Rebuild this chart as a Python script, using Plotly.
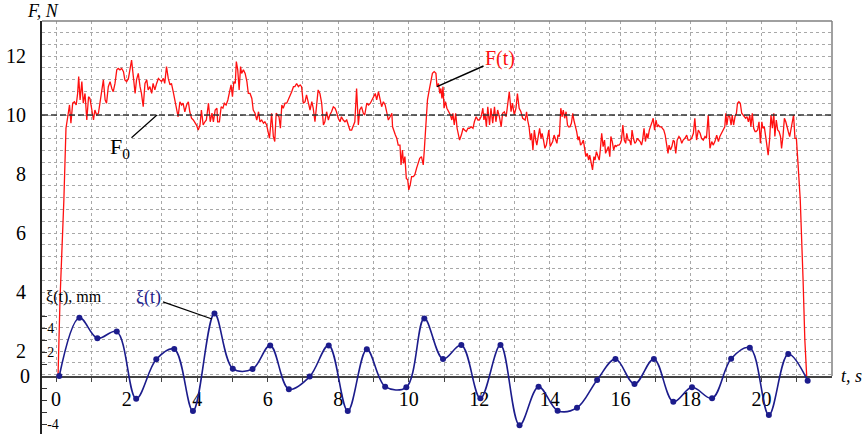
import plotly.graph_objects as go

# ---------------- data ----------------
F0 = 10.0  # nominal force, N

# F(t): (t [s], F [N]), in time segments
FORCE_0_4S = [
    (0.03, 0.0), (0.11, 3.73), (0.22, 7.12), (0.28, 9.55), (0.33, 9.94), (0.38, 10.34), (0.42, 9.72),
    (0.47, 10.40), (0.52, 10.45), (0.57, 10.34), (0.61, 10.73), (0.64, 11.30), (0.68, 10.51), (0.73, 11.13),
    (0.77, 10.40), (0.82, 10.73), (0.87, 9.83), (0.92, 10.62), (0.96, 10.56), (1.01, 10.17), (1.06, 9.83),
    (1.10, 10.17), (1.15, 10.00), (1.20, 10.06), (1.25, 10.51), (1.29, 10.73), (1.34, 11.19), (1.39, 10.51),
    (1.43, 10.40), (1.48, 10.96), (1.53, 11.13), (1.58, 10.90), (1.62, 10.79), (1.67, 11.07), (1.72, 11.53),
    (1.76, 11.58), (1.81, 11.53), (1.86, 11.58), (1.91, 11.47), (1.95, 11.19), (2.00, 11.13), (2.05, 11.24),
    (2.09, 11.58), (2.14, 11.86), (2.19, 11.30), (2.24, 10.73), (2.28, 11.19), (2.33, 11.41), (2.38, 10.96),
    (2.42, 10.73), (2.47, 10.28), (2.52, 11.07), (2.57, 11.19), (2.61, 10.85), (2.66, 10.96), (2.71, 10.73),
    (2.75, 11.07), (2.80, 10.85), (2.85, 11.07), (2.90, 11.24), (2.94, 11.19), (2.99, 11.13), (3.04, 11.24),
    (3.08, 11.07), (3.13, 11.64), (3.18, 11.24), (3.23, 11.02), (3.27, 11.07), (3.32, 10.79), (3.37, 10.51),
    (3.42, 10.28), (3.46, 9.94), (3.51, 10.45), (3.56, 10.34), (3.60, 10.40), (3.65, 10.11), (3.70, 10.34),
    (3.75, 10.45), (3.79, 10.11), (3.84, 9.89), (3.89, 9.83), (3.93, 9.77), (3.98, 9.66), (4.03, 9.49),
    (4.08, 9.66), (4.12, 10.17), (4.17, 9.66), (4.22, 9.77), (4.26, 9.83),
]
FORCE_4_9S = [
    (4.32, 10.40), (4.37, 9.77), (4.42, 10.06), (4.46, 9.77), (4.51, 10.17), (4.56, 10.23), (4.58, 9.77),
    (4.63, 9.77), (4.68, 10.28), (4.73, 10.23), (4.77, 10.40), (4.82, 10.34), (4.87, 10.51), (4.92, 10.85),
    (4.96, 11.02), (5.00, 10.62), (5.04, 11.13), (5.08, 11.07), (5.11, 11.81), (5.15, 11.53), (5.19, 10.85),
    (5.23, 11.64), (5.26, 11.41), (5.31, 11.53), (5.36, 11.41), (5.41, 11.13), (5.45, 10.73), (5.50, 10.73),
    (5.55, 10.56), (5.59, 10.17), (5.64, 10.06), (5.69, 9.83), (5.74, 10.11), (5.78, 9.77), (5.83, 9.83),
    (5.88, 9.72), (5.92, 9.77), (5.97, 9.66), (6.02, 9.32), (6.05, 9.21), (6.08, 9.60), (6.11, 10.06),
    (6.16, 9.27), (6.20, 9.10), (6.24, 10.06), (6.28, 10.00), (6.32, 9.94), (6.36, 9.55), (6.40, 10.34),
    (6.44, 10.23), (6.49, 10.40), (6.54, 10.40), (6.58, 10.51), (6.63, 10.62), (6.68, 10.79), (6.73, 10.96),
    (6.77, 10.96), (6.82, 11.07), (6.87, 10.96), (6.92, 11.02), (6.96, 10.96), (7.01, 10.40), (7.06, 10.45),
    (7.10, 10.68), (7.15, 10.40), (7.20, 10.17), (7.25, 10.45), (7.29, 10.23), (7.34, 9.77), (7.39, 10.40),
    (7.43, 10.85), (7.48, 10.73), (7.53, 10.40), (7.58, 9.66), (7.62, 9.77), (7.67, 10.11), (7.72, 9.83),
    (7.76, 10.00), (7.81, 10.11), (7.86, 10.28), (7.91, 10.23), (7.95, 10.11), (8.00, 9.89), (8.05, 9.77),
    (8.09, 9.94), (8.14, 9.83), (8.19, 9.77), (8.24, 9.83), (8.28, 9.66), (8.33, 9.49), (8.38, 9.49),
    (8.42, 9.60), (8.47, 9.77), (8.52, 10.90), (8.57, 9.66), (8.61, 10.17), (8.66, 10.28), (8.71, 10.06),
    (8.75, 10.00),
]
FORCE_9_13S = [
    (8.81, 10.40), (8.86, 10.34), (8.91, 10.40), (8.95, 10.51), (9.00, 10.62), (9.05, 10.73), (9.09, 10.51),
    (9.14, 10.79), (9.19, 10.51), (9.23, 10.28), (9.28, 10.45), (9.33, 10.34), (9.38, 10.06), (9.42, 9.83),
    (9.47, 9.94), (9.52, 10.06), (9.54, 9.60), (9.58, 9.44), (9.62, 9.32), (9.66, 9.21), (9.70, 8.98),
    (9.75, 8.98), (9.78, 8.31), (9.82, 8.81), (9.85, 8.36), (9.89, 8.59), (9.93, 7.85), (9.97, 7.80),
    (10.00, 7.46), (10.04, 7.63), (10.08, 7.91), (10.13, 7.91), (10.17, 7.97), (10.22, 8.19), (10.27, 8.36),
    (10.31, 8.53), (10.36, 8.59), (10.41, 8.31), (10.44, 8.81), (10.48, 9.60), (10.53, 10.51), (10.58, 10.85),
    (10.62, 11.07), (10.67, 11.41), (10.72, 11.47), (10.77, 11.41), (10.80, 10.96), (10.84, 11.07),
    (10.88, 10.73), (10.91, 10.90), (10.94, 10.56), (10.97, 10.96), (11.00, 10.23), (11.04, 10.45),
    (11.08, 10.23), (11.13, 10.11), (11.18, 10.00), (11.22, 9.83), (11.25, 10.06), (11.29, 9.66),
    (11.33, 10.06), (11.37, 9.55), (11.40, 9.38), (11.44, 9.15), (11.49, 9.32), (11.54, 9.55), (11.58, 9.49),
    (11.63, 9.44), (11.68, 9.55), (11.72, 9.55), (11.77, 9.60), (11.82, 9.55), (11.86, 9.77), (11.91, 9.94),
    (11.96, 9.83), (12.00, 9.83), (12.05, 9.94), (12.10, 10.23), (12.13, 9.83), (12.16, 10.06), (12.20, 9.60),
    (12.24, 10.28), (12.29, 9.66), (12.33, 10.23), (12.38, 9.72), (12.43, 10.28), (12.47, 9.77),
    (12.52, 10.17), (12.57, 9.94), (12.62, 9.60), (12.66, 10.06), (12.71, 10.11), (12.76, 9.94),
    (12.80, 10.34), (12.85, 10.79), (12.90, 10.11), (12.94, 10.40), (12.99, 10.00), (13.04, 10.23),
    (13.08, 10.73), (13.13, 10.23), (13.18, 10.11), (13.23, 9.89),
]
FORCE_13_18S = [
    (13.30, 9.83), (13.34, 10.11), (13.37, 9.83), (13.41, 9.60), (13.45, 9.15), (13.48, 9.38), (13.52, 8.81),
    (13.56, 9.49), (13.60, 9.15), (13.63, 8.98), (13.67, 9.27), (13.71, 9.55), (13.75, 9.21), (13.78, 9.38),
    (13.82, 9.15), (13.86, 8.87), (13.90, 8.98), (13.93, 9.15), (13.97, 9.49), (14.01, 8.93), (14.05, 9.04),
    (14.08, 9.10), (14.12, 9.32), (14.16, 9.15), (14.20, 9.04), (14.23, 9.32), (14.27, 9.27), (14.31, 10.23),
    (14.35, 9.94), (14.38, 10.17), (14.42, 9.89), (14.46, 10.11), (14.50, 9.66), (14.53, 9.60), (14.57, 9.60),
    (14.61, 9.72), (14.65, 10.06), (14.68, 9.83), (14.72, 9.66), (14.76, 9.44), (14.80, 9.15), (14.83, 9.27),
    (14.87, 8.98), (14.91, 9.04), (14.95, 9.15), (14.98, 8.93), (15.02, 8.59), (15.06, 8.70), (15.10, 8.47),
    (15.13, 8.64), (15.17, 8.42), (15.21, 8.14), (15.25, 8.59), (15.28, 8.47), (15.32, 8.76), (15.36, 8.64),
    (15.40, 8.47), (15.43, 8.81), (15.47, 9.38), (15.51, 8.93), (15.55, 9.15), (15.58, 8.70), (15.62, 8.81),
    (15.66, 8.93), (15.70, 8.59), (15.73, 9.27), (15.77, 9.10), (15.81, 8.81), (15.85, 8.98), (15.88, 8.93),
    (15.92, 8.98), (15.96, 8.98), (16.00, 9.04), (16.03, 9.15), (16.07, 9.66), (16.11, 9.15), (16.15, 9.04),
    (16.18, 9.38), (16.22, 9.15), (16.26, 9.15), (16.30, 8.98), (16.33, 9.49), (16.37, 9.21), (16.41, 9.04),
    (16.45, 9.10), (16.48, 9.21), (16.52, 9.15), (16.56, 9.10), (16.60, 8.98), (16.63, 9.15), (16.67, 9.55),
    (16.71, 9.10), (16.75, 9.38), (16.78, 9.21), (16.82, 9.49), (16.86, 9.60), (16.90, 9.77), (16.93, 9.89),
    (16.97, 9.49), (17.01, 9.83), (17.05, 9.60), (17.08, 9.66), (17.12, 9.60), (17.16, 9.60), (17.20, 9.55),
    (17.23, 9.49), (17.27, 9.32), (17.31, 9.04), (17.35, 8.70), (17.38, 8.98), (17.42, 8.81), (17.46, 8.93),
    (17.50, 9.15), (17.53, 9.10), (17.57, 8.70), (17.61, 9.15), (17.66, 9.27), (17.70, 9.21),
]
FORCE_18_END = [
    (17.74, 9.04), (17.78, 9.15), (17.83, 9.21), (17.88, 9.32), (17.92, 9.15), (17.97, 9.15), (18.02, 9.21),
    (18.07, 9.38), (18.11, 9.89), (18.16, 9.15), (18.21, 9.49), (18.26, 9.38), (18.30, 9.21), (18.35, 9.15),
    (18.40, 9.27), (18.44, 9.21), (18.49, 10.00), (18.54, 8.87), (18.59, 9.10), (18.63, 8.98), (18.68, 9.10),
    (18.73, 9.32), (18.78, 9.10), (18.82, 9.27), (18.87, 9.38), (18.92, 9.49), (18.96, 9.60), (18.99, 10.06),
    (19.02, 9.66), (19.06, 10.00), (19.10, 9.94), (19.14, 9.66), (19.17, 10.00), (19.21, 9.66), (19.25, 9.94),
    (19.29, 10.06), (19.32, 10.40), (19.36, 10.45), (19.40, 10.40), (19.44, 10.06), (19.48, 10.00),
    (19.51, 9.94), (19.55, 9.89), (19.59, 9.94), (19.63, 9.77), (19.67, 10.00), (19.70, 9.60), (19.74, 10.06),
    (19.78, 9.55), (19.82, 9.44), (19.85, 9.44), (19.89, 9.49), (19.93, 9.77), (19.97, 9.04), (20.01, 9.77),
    (20.04, 9.55), (20.08, 9.60), (20.12, 9.27), (20.16, 8.93), (20.19, 8.64), (20.23, 9.15), (20.27, 10.00),
    (20.31, 9.55), (20.35, 10.06), (20.38, 9.27), (20.42, 9.83), (20.46, 9.49), (20.50, 9.44), (20.54, 9.27),
    (20.57, 8.87), (20.61, 9.27), (20.65, 9.89), (20.69, 9.77), (20.72, 9.66), (20.76, 9.44), (20.80, 9.27),
    (20.84, 9.55), (20.88, 9.83), (20.91, 10.00), (20.95, 9.21), (20.99, 9.21), (21.03, 8.47), (21.07, 7.46),
    (21.10, 7.12), (21.18, 4.41), (21.23, 2.37), (21.28, 1.20), (21.32, 0.0),
]

# xi(t): displacement, mm (marked points)
XI_TIME = [0.09, 0.66, 1.17, 1.72, 2.27, 2.84, 3.35, 3.88, 4.49, 5.01, 5.57, 6.07, 6.60, 7.19, 7.73,
           8.27, 8.81, 9.33, 9.93, 10.44, 10.97, 11.49, 12.03, 12.60, 13.14, 13.68, 14.22, 14.77,
           15.34, 15.86, 16.40, 16.95, 17.50, 18.03, 18.60, 19.14, 19.67, 20.21, 20.76, 21.31]
XI_MM = [0.0, 4.86, 3.14, 3.70, -1.90, 1.39, 2.25, -2.92, 5.20, 0.61, 0.58, 2.55, -1.10, -0.05, 2.55,
         -2.92, 2.22, -0.89, -0.94, 4.80, 1.42, 2.58, -1.86, 2.58, -4.10, -0.89, -2.89, -2.65,
         -0.33, 1.42, -0.67, 1.42, -2.14, -0.94, -1.86, 1.44, 2.36, -3.25, 1.83, -0.39]

T_TICKS = list(range(0, 22))
T_LABELS = [str(v) if v % 2 == 0 else "" for v in T_TICKS]
F_LABELS = [2, 4, 6, 8, 10, 12]
XI_TICKS = [-4, -3, -2, -1, 1, 2, 3, 4, 5]
XI_LABELS = ["-4", "", "", "", "", "2", "", "4", ""]

force = FORCE_0_4S + FORCE_4_9S + FORCE_9_13S + FORCE_13_18S + FORCE_18_END
f_t = [p[0] for p in force]
f_v = [p[1] for p in force]

# ---------------- geometry ----------------
W, H = 866, 434
ML, MR, MT, MB = 42, 34, 21, 0
PW, PH = W - ML - MR, H - MT - MB
AXIS_PX = 376            # pixel row of the t axis
F_DOMAIN0 = (H - AXIS_PX) / PH
PX_PER_N = 29.5
PX_PER_MM = 12.0
F_TOP = 10 + (115 - MT) / PX_PER_N
F_BOT = F_TOP - (AXIS_PX - MT) / PX_PER_N
XI_TOP = (AXIS_PX - MT) / PX_PER_MM
XI_BOT = -(H - AXIS_PX) / PX_PER_MM

SERIF = "Liberation Serif, Times New Roman, serif"
GRID = "#a8a8a8"
RED = "#ff1010"
BLUE = "#1c1c8c"

f_grid = [round(k * 0.4, 1) for k in range(3, 33)]
f_text = [str(int(v)) if v in F_LABELS else "" for v in f_grid]

fig = go.Figure()
fig.add_trace(go.Scatter(x=f_t, y=f_v, xaxis="x", yaxis="y2", mode="lines",
                         line=dict(color=RED, width=1.3), hoverinfo="skip"))
fig.add_trace(go.Scatter(x=XI_TIME, y=XI_MM, xaxis="x2", yaxis="y", mode="lines+markers",
                         line=dict(color=BLUE, width=1.6, shape="spline", smoothing=1.0),
                         marker=dict(color=BLUE, size=6), hoverinfo="skip"))

fig.update_layout(
    width=W, height=H, margin=dict(l=ML, r=MR, t=MT, b=MB),
    paper_bgcolor="white", plot_bgcolor="rgba(0,0,0,0)", showlegend=False,
    font=dict(family=SERIF, color="black"),
    xaxis=dict(range=[-0.4, 22], domain=[0, 1], anchor="y2", automargin=False,
               tickmode="array", tickvals=T_TICKS, ticktext=T_LABELS,
               tickfont=dict(size=20, family=SERIF, color="black"),
               ticks="outside", ticklen=4, tickcolor="#444",
               showline=True, linecolor="#444", linewidth=1.5,
               showgrid=True, gridcolor=GRID, gridwidth=1, griddash="3px,3px",
               zeroline=False),
    xaxis2=dict(range=[-0.4, 22], domain=[0, 1], anchor="y", matches="x",
                visible=False, automargin=False),
    yaxis=dict(range=[XI_BOT, XI_TOP], domain=[0, 1], anchor="x2", automargin=False,
               tickmode="array", tickvals=XI_TICKS, ticktext=XI_LABELS,
               ticks="inside", ticklen=5, tickcolor="#333", ticklabelposition="inside",
               tickfont=dict(size=14, family=SERIF, color="black"),
               showline=True, linecolor="#222", linewidth=2,
               showgrid=False, zeroline=False),
    yaxis2=dict(range=[F_BOT, F_TOP], domain=[F_DOMAIN0, 1], anchor="x", automargin=False,
                tickmode="array", tickvals=f_grid, ticktext=f_text,
                tickfont=dict(size=20, family=SERIF, color="black"),
                ticks="", ticklabelstandoff=10,
                showline=True, linecolor="#222", linewidth=2,
                showgrid=True, gridcolor=GRID, gridwidth=1, griddash="3px,3px",
                zeroline=False),
)

# frame and F0 level
fig.add_shape(type="line", xref="x domain", yref="y2 domain", x0=0, x1=1, y0=1, y1=1,
              line=dict(color="#808080", width=1.5))
fig.add_shape(type="line", xref="x domain", yref="y2 domain", x0=1, x1=1, y0=0, y1=1,
              line=dict(color="#808080", width=1.5))
fig.add_shape(type="line", xref="x domain", yref="y2", x0=0, x1=1, y0=F0, y1=F0,
              line=dict(color="#333333", width=1.5, dash="6px,3px"))

def px_x(px):
    return (px - ML) / PW

def px_y(py):
    return (H - MB - py) / PH

# labels
fig.add_annotation(text="<i>F, N</i>", xref="paper", yref="paper", x=px_x(43), y=px_y(11),
                   xanchor="center", yanchor="middle", showarrow=False,
                   font=dict(size=18, family=SERIF))
fig.add_annotation(text="<i>t, s</i>", xref="paper", yref="y", x=px_x(839), y=0,
                   xanchor="left", yanchor="middle", showarrow=False,
                   font=dict(size=18, family=SERIF))
fig.add_annotation(text="0", xref="paper", yref="y", x=px_x(32), y=0, xanchor="right",
                   yanchor="middle", showarrow=False, font=dict(size=20, family=SERIF))
fig.add_annotation(text="ξ(t), mm", xref="paper", yref="paper", x=px_x(44), y=px_y(297),
                   xanchor="left", yanchor="middle", showarrow=False,
                   font=dict(size=16, family=SERIF))

# callouts
fig.add_annotation(text="F(t)", xref="x", yref="y2", x=10.80, y=10.96, ax=63, ay=-28,
                   showarrow=True, arrowhead=0, arrowwidth=1.5, arrowcolor="black",
                   font=dict(size=20, family=SERIF, color=RED))
fig.add_annotation(text="F<sub>0</sub>", xref="x", yref="y2", x=2.86, y=F0, ax=-37, ay=33,
                   showarrow=True, arrowhead=0, arrowwidth=1.2, arrowcolor="black",
                   font=dict(size=22, family=SERIF, color="black"))
fig.add_annotation(text="ξ(t)", xref="x2", yref="y", x=4.42, y=4.75, ax=-63, ay=-22,
                   showarrow=True, arrowhead=0, arrowwidth=1.2, arrowcolor="black",
                   font=dict(size=18, family=SERIF, color=BLUE))

fig.write_html("out.html", config={"displayModeBar": False},
               post_script="document.body.style.margin='0px';")
